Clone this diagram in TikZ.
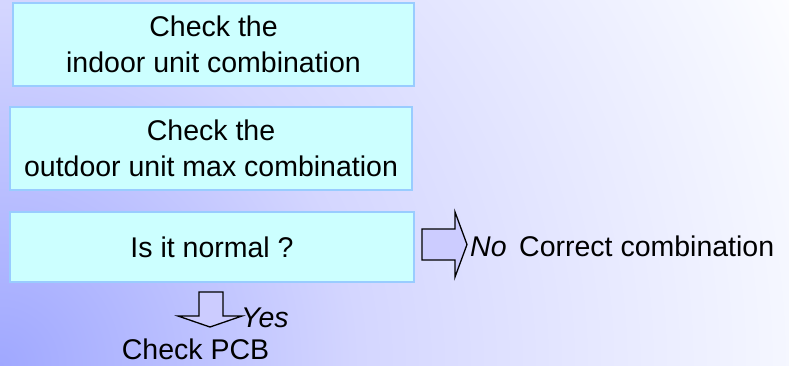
\documentclass[tikz,border=0pt]{standalone}
\usepackage{fontspec}
\setmainfont{Liberation Sans}
\definecolor{bgA}{HTML}{A0A8FF}
\definecolor{bgB}{HTML}{D4D6FF}
\definecolor{bgC}{HTML}{E6E8FF}
\definecolor{bgD}{HTML}{F5F7FF}
\definecolor{boxfill}{HTML}{CCFFFF}
\definecolor{boxline}{HTML}{99CCFF}
\definecolor{arrowfill}{HTML}{CCCCFF}
\pgfdeclareradialshading{bgshade}{\pgfpoint{0bp}{0bp}}{color(0bp)=(bgA); color(10bp)=(bgB); color(16.5bp)=(bgC); color(22bp)=(bgD); color(25bp)=(white); color(50bp)=(white)}
\begin{document}
\begin{tikzpicture}[x=1pt,y=-1pt,
  txt/.style={font=\fontsize{28.5}{36}\selectfont, inner sep=0pt},
  stepbox/.style={txt, draw=boxline, fill=boxfill, line width=1.3pt, align=center},
  blockarrow/.style={draw=black, fill=arrowfill, line width=1.3pt, line join=miter}]
\useasboundingbox (0,0) rectangle (789,365);
\begin{scope}
  \clip (0,0) rectangle (789,365);
  \shade[shading=bgshade] (0,365) circle[radius=900];
\end{scope}
\node[stepbox, minimum width=401pt, minimum height=83pt] (b1) at (213.5,44.5) {Check the\\indoor unit combination};
\node[stepbox, minimum width=402pt, minimum height=83pt] (b2) at (211,148.5) {Check the\\outdoor unit max combination};
\node[stepbox, minimum width=404pt, minimum height=70pt] (b3) at (212,247) {Is it normal ?};
% down arrow
\coordinate (dn) at (211,292);
\draw[blockarrow] (dn) ++(-12,0) -- ++(24,0) -- ++(0,24) -- ++(19,0) -- ++(-32,11) -- ++(-32,-11) -- ++(21,0) -- cycle;
\node[txt, anchor=base west] (yes) at (241,327) {\itshape Yes};
\node[txt, anchor=base] (pcb) at (195.5,359) {Check PCB};
% right arrow
\coordinate (rt) at (422,244.5);
\draw[blockarrow] (rt) ++(0,-15.5) -- ++(33,0) -- ++(0,-17) -- ++(12,32.5) -- ++(-12,32.5) -- ++(0,-17) -- ++(-33,0) -- cycle;
\node[txt, anchor=base west] (no) at (470,256) {\itshape No};
\node[txt, anchor=base west] (corr) at (519,256) {Correct combination};
\end{tikzpicture}
\end{document}
